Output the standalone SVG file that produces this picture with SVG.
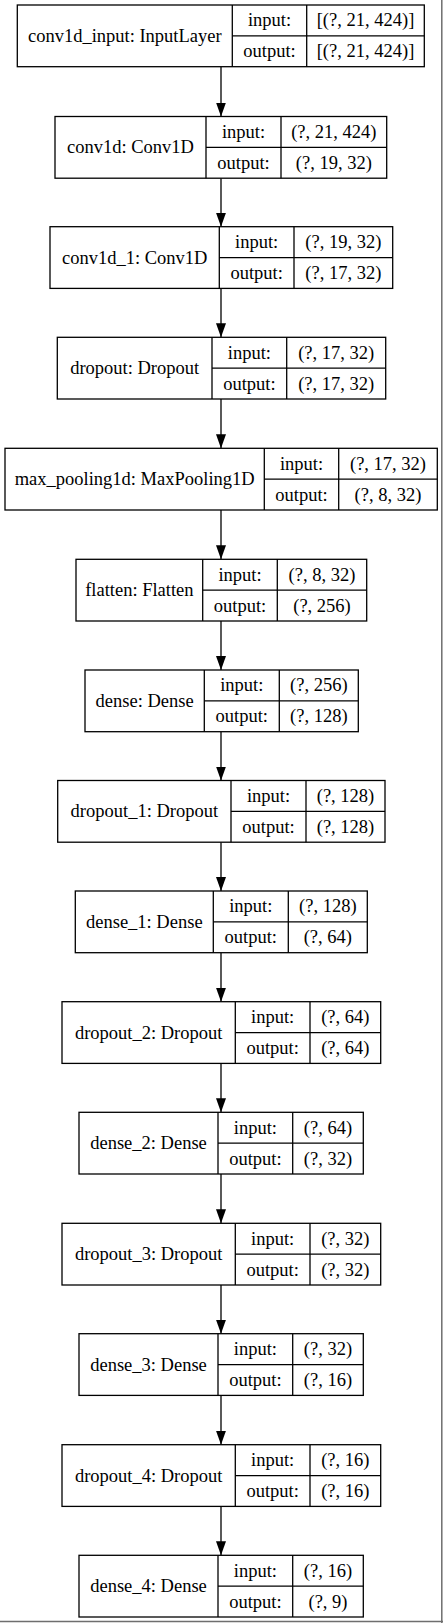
<svg xmlns="http://www.w3.org/2000/svg" width="443" height="1623" viewBox="0 0 443 1623">
<defs>
<marker id="arrow" markerUnits="userSpaceOnUse" viewBox="0 0 14 10" refX="14" refY="5" markerWidth="14" markerHeight="10" orient="auto">
<path d="M0,0 L14,5 L0,10 z" fill="#000"/>
</marker>
</defs>
<style>
.box{fill:#fff;stroke:#000;stroke-width:1.3}
.sep{stroke:#000;stroke-width:1.3}
text{font-family:"Liberation Serif","Times New Roman",serif;font-size:18.5px;fill:#000;text-anchor:middle}
.edge{stroke:#000;stroke-width:1.3;fill:none;marker-end:url(#arrow)}
.frame{stroke:#6e6e6e;stroke-width:1.5}
</style>
<rect x="0" y="0" width="443" height="1623" fill="#fff"/>
<line class="frame" x1="441.8" y1="0" x2="441.8" y2="1623"/>
<line class="frame" x1="0" y1="1621.6" x2="443" y2="1621.6"/>

<g id="edges">
<path class="edge" d="M221,66.7 L221,116.5"/>
<path class="edge" d="M221,178.2 L221,226.7"/>
<path class="edge" d="M221,288.4 L221,337.3"/>
<path class="edge" d="M221,399 L221,448.3"/>
<path class="edge" d="M221,510 L221,559.3"/>
<path class="edge" d="M221,621 L221,670"/>
<path class="edge" d="M221,731.7 L221,780.5"/>
<path class="edge" d="M221,842.2 L221,891"/>
<path class="edge" d="M221,952.7 L221,1001.7"/>
<path class="edge" d="M221,1063.4 L221,1112.3"/>
<path class="edge" d="M221,1174 L221,1223.3"/>
<path class="edge" d="M221,1285 L221,1333.7"/>
<path class="edge" d="M221,1395.4 L221,1444.7"/>
<path class="edge" d="M221,1506.4 L221,1555.3"/>
</g>

<g id="conv1d_input">
<rect class="box" x="17.3" y="5" width="407" height="61.7"/>
<line class="sep" x1="232.3" y1="5" x2="232.3" y2="66.7"/>
<line class="sep" x1="306.7" y1="5" x2="306.7" y2="66.7"/>
<line class="sep" x1="232.3" y1="35.85" x2="424.3" y2="35.85"/>
<text x="124.8" y="41.85">conv1d_input: InputLayer</text>
<text x="269.5" y="26.4">input:</text>
<text x="269.5" y="57.3">output:</text>
<text x="365.5" y="26.4">[(?, 21, 424)]</text>
<text x="365.5" y="57.3">[(?, 21, 424)]</text>
</g>

<g id="conv1d">
<rect class="box" x="55" y="116.5" width="331.7" height="61.7"/>
<line class="sep" x1="206" y1="116.5" x2="206" y2="178.2"/>
<line class="sep" x1="281" y1="116.5" x2="281" y2="178.2"/>
<line class="sep" x1="206" y1="147.35" x2="386.7" y2="147.35"/>
<text x="130.5" y="153.35">conv1d: Conv1D</text>
<text x="243.5" y="137.9">input:</text>
<text x="243.5" y="168.8">output:</text>
<text x="333.85" y="137.9">(?, 21, 424)</text>
<text x="333.85" y="168.8">(?, 19, 32)</text>
</g>

<g id="conv1d_1">
<rect class="box" x="50" y="226.7" width="342.7" height="61.7"/>
<line class="sep" x1="219.3" y1="226.7" x2="219.3" y2="288.4"/>
<line class="sep" x1="294" y1="226.7" x2="294" y2="288.4"/>
<line class="sep" x1="219.3" y1="257.55" x2="392.7" y2="257.55"/>
<text x="134.65" y="263.55">conv1d_1: Conv1D</text>
<text x="256.65" y="248.1">input:</text>
<text x="256.65" y="279">output:</text>
<text x="343.35" y="248.1">(?, 19, 32)</text>
<text x="343.35" y="279">(?, 17, 32)</text>
</g>

<g id="dropout">
<rect class="box" x="57.3" y="337.3" width="328.4" height="61.7"/>
<line class="sep" x1="212" y1="337.3" x2="212" y2="399"/>
<line class="sep" x1="286.7" y1="337.3" x2="286.7" y2="399"/>
<line class="sep" x1="212" y1="368.15" x2="385.7" y2="368.15"/>
<text x="134.65" y="374.15">dropout: Dropout</text>
<text x="249.35" y="358.7">input:</text>
<text x="249.35" y="389.6">output:</text>
<text x="336.2" y="358.7">(?, 17, 32)</text>
<text x="336.2" y="389.6">(?, 17, 32)</text>
</g>

<g id="max_pooling1d">
<rect class="box" x="5" y="448.3" width="432.3" height="61.7"/>
<line class="sep" x1="264.3" y1="448.3" x2="264.3" y2="510"/>
<line class="sep" x1="338.7" y1="448.3" x2="338.7" y2="510"/>
<line class="sep" x1="264.3" y1="479.15" x2="437.3" y2="479.15"/>
<text x="134.65" y="485.15">max_pooling1d: MaxPooling1D</text>
<text x="301.5" y="469.7">input:</text>
<text x="301.5" y="500.6">output:</text>
<text x="388" y="469.7">(?, 17, 32)</text>
<text x="388" y="500.6">(?, 8, 32)</text>
</g>

<g id="flatten">
<rect class="box" x="76" y="559.3" width="290.7" height="61.7"/>
<line class="sep" x1="202.7" y1="559.3" x2="202.7" y2="621"/>
<line class="sep" x1="277.3" y1="559.3" x2="277.3" y2="621"/>
<line class="sep" x1="202.7" y1="590.15" x2="366.7" y2="590.15"/>
<text x="139.35" y="596.15">flatten: Flatten</text>
<text x="240" y="580.7">input:</text>
<text x="240" y="611.6">output:</text>
<text x="322" y="580.7">(?, 8, 32)</text>
<text x="322" y="611.6">(?, 256)</text>
</g>

<g id="dense">
<rect class="box" x="85" y="670" width="273.3" height="61.7"/>
<line class="sep" x1="204.3" y1="670" x2="204.3" y2="731.7"/>
<line class="sep" x1="279.3" y1="670" x2="279.3" y2="731.7"/>
<line class="sep" x1="204.3" y1="700.85" x2="358.3" y2="700.85"/>
<text x="144.65" y="706.85">dense: Dense</text>
<text x="241.8" y="691.4">input:</text>
<text x="241.8" y="722.3">output:</text>
<text x="318.8" y="691.4">(?, 256)</text>
<text x="318.8" y="722.3">(?, 128)</text>
</g>

<g id="dropout_1">
<rect class="box" x="57.7" y="780.5" width="327.3" height="61.7"/>
<line class="sep" x1="231" y1="780.5" x2="231" y2="842.2"/>
<line class="sep" x1="306" y1="780.5" x2="306" y2="842.2"/>
<line class="sep" x1="231" y1="811.35" x2="385" y2="811.35"/>
<text x="144.35" y="817.35">dropout_1: Dropout</text>
<text x="268.5" y="801.9">input:</text>
<text x="268.5" y="832.8">output:</text>
<text x="345.5" y="801.9">(?, 128)</text>
<text x="345.5" y="832.8">(?, 128)</text>
</g>

<g id="dense_1">
<rect class="box" x="75.3" y="891" width="292" height="61.7"/>
<line class="sep" x1="213.3" y1="891" x2="213.3" y2="952.7"/>
<line class="sep" x1="288.3" y1="891" x2="288.3" y2="952.7"/>
<line class="sep" x1="213.3" y1="921.85" x2="367.3" y2="921.85"/>
<text x="144.3" y="927.85">dense_1: Dense</text>
<text x="250.8" y="912.4">input:</text>
<text x="250.8" y="943.3">output:</text>
<text x="327.8" y="912.4">(?, 128)</text>
<text x="327.8" y="943.3">(?, 64)</text>
</g>

<g id="dropout_2">
<rect class="box" x="62" y="1001.7" width="318.7" height="61.7"/>
<line class="sep" x1="235.3" y1="1001.7" x2="235.3" y2="1063.4"/>
<line class="sep" x1="310" y1="1001.7" x2="310" y2="1063.4"/>
<line class="sep" x1="235.3" y1="1032.55" x2="380.7" y2="1032.55"/>
<text x="148.65" y="1038.55">dropout_2: Dropout</text>
<text x="272.65" y="1023.1">input:</text>
<text x="272.65" y="1054">output:</text>
<text x="345.35" y="1023.1">(?, 64)</text>
<text x="345.35" y="1054">(?, 64)</text>
</g>

<g id="dense_2">
<rect class="box" x="79" y="1112.3" width="284.3" height="61.7"/>
<line class="sep" x1="218" y1="1112.3" x2="218" y2="1174"/>
<line class="sep" x1="292.7" y1="1112.3" x2="292.7" y2="1174"/>
<line class="sep" x1="218" y1="1143.15" x2="363.3" y2="1143.15"/>
<text x="148.5" y="1149.15">dense_2: Dense</text>
<text x="255.35" y="1133.7">input:</text>
<text x="255.35" y="1164.6">output:</text>
<text x="328" y="1133.7">(?, 64)</text>
<text x="328" y="1164.6">(?, 32)</text>
</g>

<g id="dropout_3">
<rect class="box" x="62" y="1223.3" width="318.7" height="61.7"/>
<line class="sep" x1="235.3" y1="1223.3" x2="235.3" y2="1285"/>
<line class="sep" x1="310" y1="1223.3" x2="310" y2="1285"/>
<line class="sep" x1="235.3" y1="1254.15" x2="380.7" y2="1254.15"/>
<text x="148.65" y="1260.15">dropout_3: Dropout</text>
<text x="272.65" y="1244.7">input:</text>
<text x="272.65" y="1275.6">output:</text>
<text x="345.35" y="1244.7">(?, 32)</text>
<text x="345.35" y="1275.6">(?, 32)</text>
</g>

<g id="dense_3">
<rect class="box" x="79" y="1333.7" width="284.3" height="61.7"/>
<line class="sep" x1="218" y1="1333.7" x2="218" y2="1395.4"/>
<line class="sep" x1="292.7" y1="1333.7" x2="292.7" y2="1395.4"/>
<line class="sep" x1="218" y1="1364.55" x2="363.3" y2="1364.55"/>
<text x="148.5" y="1370.55">dense_3: Dense</text>
<text x="255.35" y="1355.1">input:</text>
<text x="255.35" y="1386">output:</text>
<text x="328" y="1355.1">(?, 32)</text>
<text x="328" y="1386">(?, 16)</text>
</g>

<g id="dropout_4">
<rect class="box" x="62" y="1444.7" width="318.7" height="61.7"/>
<line class="sep" x1="235.3" y1="1444.7" x2="235.3" y2="1506.4"/>
<line class="sep" x1="310" y1="1444.7" x2="310" y2="1506.4"/>
<line class="sep" x1="235.3" y1="1475.55" x2="380.7" y2="1475.55"/>
<text x="148.65" y="1481.55">dropout_4: Dropout</text>
<text x="272.65" y="1466.1">input:</text>
<text x="272.65" y="1497">output:</text>
<text x="345.35" y="1466.1">(?, 16)</text>
<text x="345.35" y="1497">(?, 16)</text>
</g>

<g id="dense_4">
<rect class="box" x="79" y="1555.3" width="284.3" height="61.7"/>
<line class="sep" x1="218" y1="1555.3" x2="218" y2="1617"/>
<line class="sep" x1="292.7" y1="1555.3" x2="292.7" y2="1617"/>
<line class="sep" x1="218" y1="1586.15" x2="363.3" y2="1586.15"/>
<text x="148.5" y="1592.15">dense_4: Dense</text>
<text x="255.35" y="1576.7">input:</text>
<text x="255.35" y="1607.6">output:</text>
<text x="328" y="1576.7">(?, 16)</text>
<text x="328" y="1607.6">(?, 9)</text>
</g>
</svg>
